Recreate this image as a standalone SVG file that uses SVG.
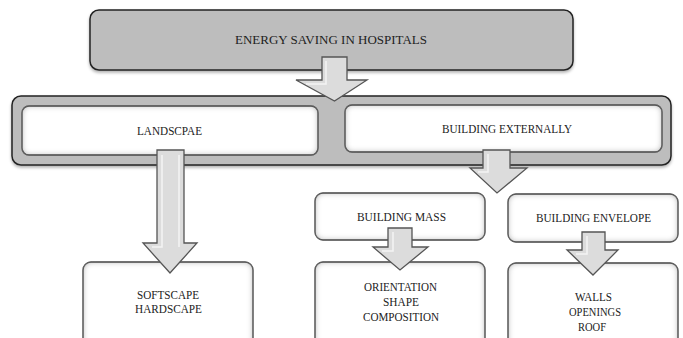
<svg xmlns="http://www.w3.org/2000/svg" width="683" height="338" viewBox="0 0 683 338">
<style>
text{font-family:"Liberation Serif","Times New Roman",serif;font-size:12.5px;fill:#222;text-anchor:middle}
.box{fill:#fff;stroke:#333;stroke-width:1.3;filter:url(#inner)}
.gray{fill:#bdbdbd;stroke:#222;stroke-width:1.5;filter:url(#shadow)}
.arr{fill:#dcdcdc;stroke:#555;stroke-width:1.3;stroke-linejoin:miter}
.arrhi{fill:none;stroke:#f4f4f4;stroke-width:1.5}
</style>
<defs>
<filter id="inner" x="-5%" y="-10%" width="110%" height="120%">
<feFlood flood-color="#7a7a7a"/>
<feComposite in2="SourceAlpha" operator="out"/>
<feGaussianBlur stdDeviation="3"/>
<feComposite in2="SourceAlpha" operator="in" result="glow"/>
<feMerge><feMergeNode in="SourceGraphic"/><feMergeNode in="glow"/></feMerge>
</filter>
<filter id="shadow" x="-5%" y="-10%" width="110%" height="130%">
<feGaussianBlur in="SourceAlpha" stdDeviation="1.5"/>
<feOffset dy="2" result="b"/>
<feFlood flood-color="#000" flood-opacity="0.3"/>
<feComposite in2="b" operator="in"/>
<feMerge><feMergeNode/><feMergeNode in="SourceGraphic"/></feMerge>
</filter>
</defs>

<g id="energy-saving">
<rect class="gray" x="90" y="10" width="483" height="60" rx="9"/>
<text x="331" y="44" textLength="192" lengthAdjust="spacingAndGlyphs">ENERGY SAVING IN HOSPITALS</text>
</g>

<g id="container">
<rect class="gray" x="12" y="96" width="659" height="69" rx="9"/>
</g>

<g id="landscape">
<rect class="box" x="22" y="106" width="296" height="49" rx="7"/>
<text x="169.5" y="135" textLength="65" lengthAdjust="spacingAndGlyphs">LANDSCPAE</text>
</g>

<g id="building-externally">
<rect class="box" x="345" y="105" width="317" height="47" rx="7"/>
<text x="507" y="133" textLength="130" lengthAdjust="spacingAndGlyphs">BUILDING EXTERNALLY</text>
</g>

<g id="building-mass">
<rect class="box" x="315" y="193" width="170" height="47" rx="8"/>
<text x="401.5" y="221" textLength="89" lengthAdjust="spacingAndGlyphs">BUILDING MASS</text>
</g>

<g id="building-envelope">
<rect class="box" x="508" y="194" width="170" height="48" rx="8"/>
<text x="593.5" y="222" textLength="115" lengthAdjust="spacingAndGlyphs">BUILDING ENVELOPE</text>
</g>

<g id="softscape-hardscape">
<rect class="box" x="83" y="262" width="170" height="90" rx="8"/>
<text x="168" y="299" textLength="62" lengthAdjust="spacingAndGlyphs">SOFTSCAPE</text>
<text x="168.5" y="313" textLength="67" lengthAdjust="spacingAndGlyphs">HARDSCAPE</text>
</g>

<g id="orientation-shape-composition">
<rect class="box" x="315" y="262" width="170" height="90" rx="8"/>
<text x="400.5" y="291" textLength="73" lengthAdjust="spacingAndGlyphs">ORIENTATION</text>
<text x="401" y="306" textLength="36" lengthAdjust="spacingAndGlyphs">SHAPE</text>
<text x="401" y="321" textLength="76" lengthAdjust="spacingAndGlyphs">COMPOSITION</text>
</g>

<g id="walls-openings-roof">
<rect class="box" x="508" y="263" width="170" height="90" rx="8"/>
<text x="593.5" y="301" textLength="37" lengthAdjust="spacingAndGlyphs">WALLS</text>
<text x="595" y="316" textLength="52" lengthAdjust="spacingAndGlyphs">OPENINGS</text>
<text x="592" y="331" textLength="28" lengthAdjust="spacingAndGlyphs">ROOF</text>
</g>

<g id="connectors">
<g id="arrow-top">
<polygon class="arr" points="322,57 347,57 347,80 367,80 334.5,101 296,80 322,80"/>
<polyline class="arrhi" points="326,61 326,84 306,84"/>
</g>
<g id="arrow-landscape">
<polygon class="arr" points="157,150 184,150 184,243 197,243 170,273 143,243 157,243"/>
<polyline class="arrhi" points="162,155 162,247 152,247"/>
<polyline class="arrhi" points="179,155 179,247"/>
</g>
<g id="arrow-building">
<polygon class="arr" points="483,150 510,150 510,168 527,168 497,193 470,168 483,168"/>
<polyline class="arrhi" points="488,154 488,172 478,172"/>
</g>
<g id="arrow-mass">
<polygon class="arr" points="388,228 412,228 412,247 428,247 400,270 373,247 388,247"/>
<polyline class="arrhi" points="393,232 393,251 382,251"/>
</g>
<g id="arrow-envelope">
<polygon class="arr" points="582,232 605,232 605,250 618,250 593,275 567,250 582,250"/>
<polyline class="arrhi" points="587,236 587,254 576,254"/>
</g>
</g>
</svg>
